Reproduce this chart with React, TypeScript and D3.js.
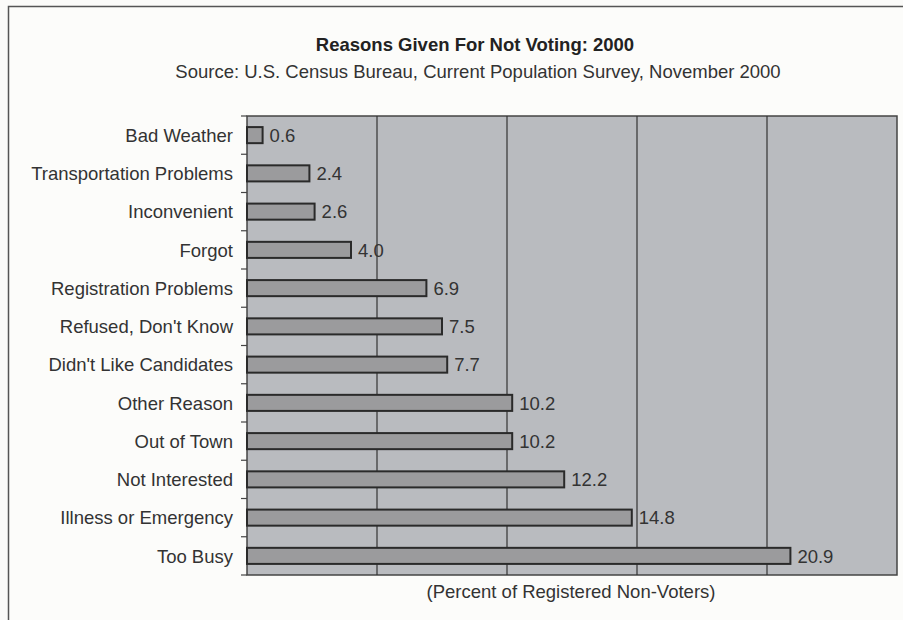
import React from "react";
import * as d3 from "d3";

const categories = [
  "Bad Weather",
  "Transportation Problems",
  "Inconvenient",
  "Forgot",
  "Registration Problems",
  "Refused, Don't Know",
  "Didn't Like Candidates",
  "Other Reason",
  "Out of Town",
  "Not Interested",
  "Illness or Emergency",
  "Too Busy",
];
const values = [0.6, 2.4, 2.6, 4.0, 6.9, 7.5, 7.7, 10.2, 10.2, 12.2, 14.8, 20.9];
const gridTicks = [5, 10, 15, 20];

const W = 903;
const H = 620;
const plot = { left: 247, right: 897, top: 116, bottom: 575 };

export default function App() {
  const x = d3.scaleLinear().domain([0, 25]).range([plot.left, plot.right]);
  const y = d3.scaleBand<string>().domain(categories).range([plot.top, plot.bottom]).paddingInner(0.58).paddingOuter(0.29);
  const band = d3.scaleBand<string>().domain(categories).range([plot.top, plot.bottom]);
  const font = "'Liberation Sans', Arial, sans-serif";
  const fs = 18.5;
  const tickBounds = d3.range(categories.length + 1).map((i) => plot.top + i * band.step());
  return (
    <div style={{ position: "absolute", left: 0, top: 0 }}>
      <svg width={W} height={H} style={{ display: "block", background: "#fbfbf9" }}>
        <rect x={8.5} y={6.5} width={W} height={H} fill="#fcfcfa" stroke="#555" strokeWidth={1.5} />
        <text x={475} y={51} textAnchor="middle" fontFamily={font} fontWeight="bold" fontSize={fs} fill="#222">
          Reasons Given For Not Voting: 2000
        </text>
        <text x={478} y={78} textAnchor="middle" fontFamily={font} fontSize={fs} fill="#333">
          Source: U.S. Census Bureau, Current Population Survey, November 2000
        </text>
        <rect x={plot.left} y={plot.top} width={plot.right - plot.left} height={plot.bottom - plot.top} fill="#b9bbbf" stroke="#444" strokeWidth={1.5} />
        {gridTicks.map((t) => (
          <line key={t} x1={x(t)} x2={x(t)} y1={plot.top} y2={plot.bottom} stroke="#333" strokeWidth={1.2} />
        ))}
        {tickBounds.map((yy, i) => (
          <line key={i} x1={plot.left - 6} x2={plot.left} y1={yy} y2={yy} stroke="#444" strokeWidth={1.2} />
        ))}
        {categories.map((c, i) => {
          const by = y(c)!;
          const bh = y.bandwidth();
          return (
            <g key={c}>
              <rect x={x(0)} y={by} width={x(values[i]) - x(0)} height={bh} fill="#9b9b9d" stroke="#2a2a2a" strokeWidth={2} />
              <text x={x(values[i]) + 7} y={by + bh / 2} dy="0.36em" fontFamily={font} fontSize={fs} fill="#333">
                {values[i].toFixed(1)}
              </text>
              <text x={plot.left - 14} y={band(c)! + band.bandwidth() / 2} dy="0.36em" textAnchor="end" fontFamily={font} fontSize={fs} fill="#333">
                {c}
              </text>
            </g>
          );
        })}
        <text x={571} y={598} textAnchor="middle" fontFamily={font} fontSize={fs} fill="#333">
          (Percent of Registered Non-Voters)
        </text>
      </svg>
    </div>
  );
}
